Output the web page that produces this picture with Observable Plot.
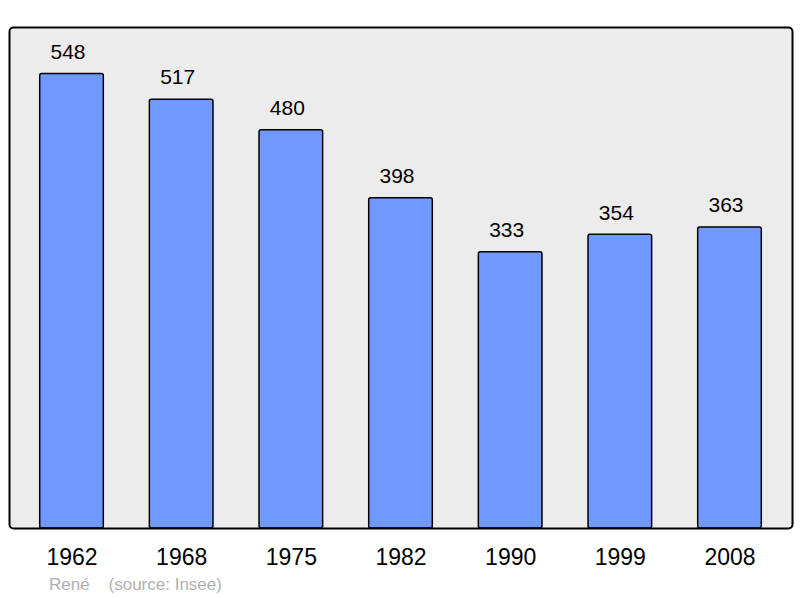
<!DOCTYPE html>
<html>
<head>
<meta charset="utf-8">
<script src="https://cdn.jsdelivr.net/npm/d3@7"></script>
<script src="https://cdn.jsdelivr.net/npm/@observablehq/plot@0.6"></script>
<style>
  html, body { margin: 0; padding: 0; background: #fff; }
  #chart svg { display: block; }
  #caption { font-family: "Liberation Sans", Arial, sans-serif; font-size: 17px; color: #b0b0b0; margin: 5px 0 0 49px; line-height: 20px; white-space: pre; }
</style>
</head>
<body>
<div id="chart"></div>
<div id="caption"></div>
<script>
const years = ["1962", "1968", "1975", "1982", "1990", "1999", "2008"];
const population = [548, 517, 480, 398, 333, 354, 363];
const captionAuthor = "René";
const captionSource = "(source: Insee)";

const data = years.map((year, i) => ({year, value: population[i]}));

const chart = Plot.plot({
  width: 800,
  height: 570,
  marginLeft: 9,
  marginRight: 8,
  marginTop: 27,
  marginBottom: 42,
  style: {fontFamily: "Liberation Sans, Arial, sans-serif", background: "#fff"},
  x: {domain: years, paddingInner: 0.42, paddingOuter: 0.28, round: false, label: null},
  y: {domain: [0, 604], axis: null},
  marks: [
    Plot.frame({fill: "#ececec", stroke: null}),
    Plot.barY(data, {x: "year", y: "value", fill: "#7099ff", stroke: "#000", strokeWidth: 1.5, rx: 2}),
    Plot.text(data, {x: "year", y: "value", text: d => String(d.value), dy: -22, dx: -4, fontSize: 21, fill: "#000"}),
    Plot.frame({stroke: "#000", strokeWidth: 2, rx: 4}),
    Plot.axisX({tickSize: 0, tickPadding: 20, fontSize: 23, color: "#000", label: null})
  ]
});
document.getElementById("chart").appendChild(chart);
document.getElementById("caption").textContent = captionAuthor + "    " + captionSource;
</script>
</body>
</html>
